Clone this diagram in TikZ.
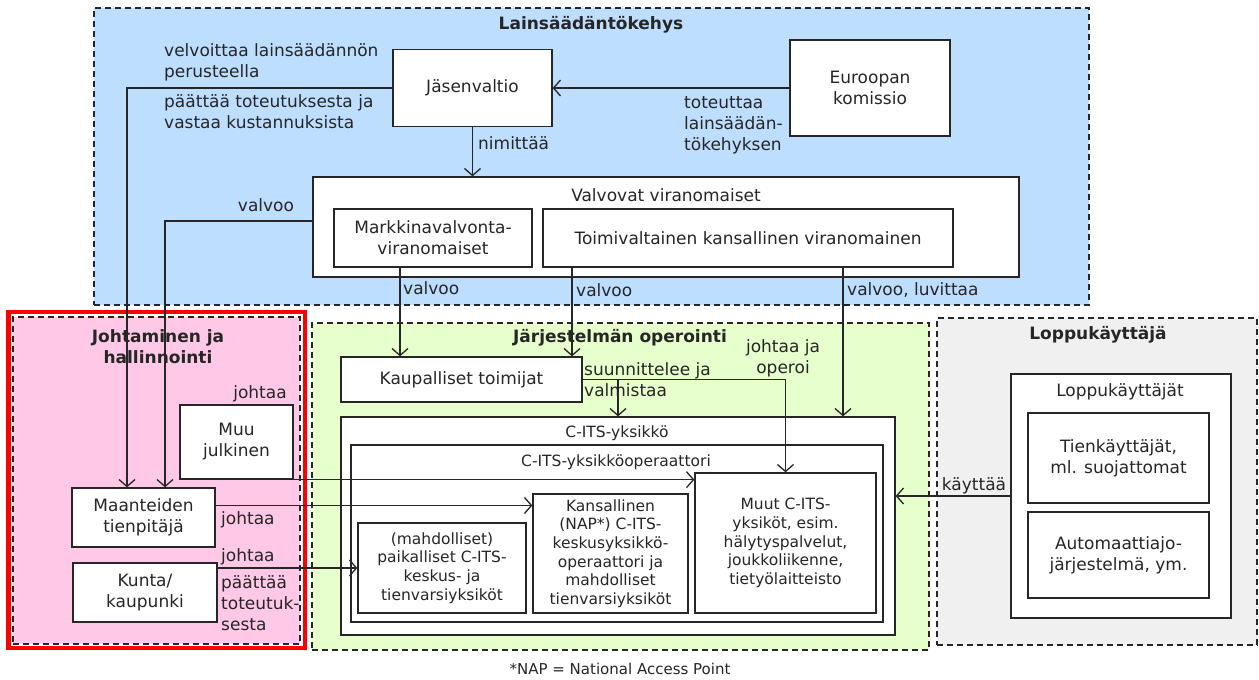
\documentclass[tikz,border=0pt]{standalone}
\usepackage{fontspec}
\setmainfont{DejaVu Sans}
\usetikzlibrary{positioning,arrows.meta}
\definecolor{ink}{HTML}{262626}
\definecolor{lawblue}{HTML}{BDDEFF}
\definecolor{mgmtpink}{HTML}{FFC8E6}
\definecolor{opgreen}{HTML}{E6FFCC}
\definecolor{usergrey}{HTML}{F0F0F0}
\definecolor{frame}{HTML}{FF0000}
\newcommand{\txtmain}{\fontsize{17}{21}\selectfont}
\newcommand{\txtsmall}{\fontsize{15.5}{18.7}\selectfont}

\begin{document}
\begin{tikzpicture}[x=1pt, y=-1pt, font=\txtmain, text=ink,
  region/.style={draw=ink, dash pattern=on 6pt off 4pt, line width=1.1pt},
  unit/.style={draw=ink, fill=white, line width=1.3pt, align=center, inner sep=2pt},
  lbl/.style={align=left, inner sep=1pt},
  ttl/.style={font=\txtmain\bfseries, align=center, inner sep=1pt},
  arr/.style={draw=ink, line width=1.3pt, -{Straight Barb[length=7pt,width=16pt]}}]
  \useasboundingbox (0,0) rectangle (1259,680);

  \node[region, fill=lawblue, minimum width=995pt, minimum height=297pt] (lain) at (591.5,156.5) {};
  \node[region, fill=opgreen, minimum width=617pt, minimum height=327pt] (jarj) at (620.5,486.5) {};
  \node[region, fill=usergrey, minimum width=320pt, minimum height=327pt] (loppu) at (1097,481.5) {};
  \node[region, fill=mgmtpink, minimum width=287pt, minimum height=327pt] (johto) at (156.5,480.5) {};
  \node[draw=frame, line width=4.5pt, minimum width=296.5pt, minimum height=336pt] (johtframe) at (156.75,480) {};

  \node[ttl] (lainttl) at (591,25) {Lainsäädäntökehys};
  \node[ttl] (johtottl) at (158,347) {Johtaminen ja\\hallinnointi};
  \node[ttl] (jarjttl) at (620,338) {Järjestelmän operointi};
  \node[ttl] (lopputtl) at (1098,335) {Loppukäyttäjä};

  \node[unit, minimum width=159pt, minimum height=77pt] (jasen) at (472.5,88) {Jäsenvaltio};
  \node[unit, minimum width=160pt, minimum height=96pt] (komissio) at (870,88) {Euroopan\\komissio};
  \node[unit, minimum width=706pt, minimum height=100pt] (valvovat) at (666,227) {};
  \node (valvottl) at (666,195) {Valvovat viranomaiset};
  \node[unit, minimum width=198pt, minimum height=58pt] (markkina) at (433,238) {Markkinavalvonta-\\viranomaiset};
  \node[unit, minimum width=410pt, minimum height=58pt] (toimi) at (748,238) {Toimivaltainen kansallinen viranomainen};

  \node[unit, minimum width=113pt, minimum height=74pt] (muujulk) at (236.5,442) {Muu\\julkinen};
  \node[unit, minimum width=143pt, minimum height=59pt] (maant) at (143.5,517.5) {Maanteiden\\tienpitäjä};
  \node[unit, minimum width=144pt, minimum height=59pt] (kunta) at (145,592.5) {Kunta/\\kaupunki};

  \node[unit, minimum width=241pt, minimum height=45pt] (kaupall) at (461.5,379.5) {Kaupalliset toimijat};
  \node[unit, minimum width=554pt, minimum height=218pt] (citsyks) at (618,526) {};
  \node (citsyksttl) at (617,433) {\txtsmall C-ITS-yksikkö};
  \node[unit, minimum width=532pt, minimum height=177pt] (citsop) at (617,533.5) {};
  \node (citsopttl) at (616,462) {\txtsmall C-ITS-yksikköoperaattori};
  \node[unit, font=\txtsmall, minimum width=168pt, minimum height=90pt] (mahd) at (442,568) {(mahdolliset)\\paikalliset C-ITS-\\keskus- ja\\tienvarsiyksiköt};
  \node[unit, font=\txtsmall, minimum width=155pt, minimum height=119pt] (kans) at (610.5,553.5) {Kansallinen\\(NAP*) C-ITS-\\keskusyksikkö-\\operaattori ja\\mahdolliset\\tienvarsiyksiköt};
  \node[unit, font=\txtsmall, minimum width=181pt, minimum height=140pt] (muut) at (785.5,543) {Muut C-ITS-\\yksiköt, esim.\\hälytyspalvelut,\\joukkoliikenne,\\tietyölaitteisto};

  \node[unit, minimum width=220pt, minimum height=244pt] (loppukayt) at (1121,496) {};
  \node (loppukayttl) at (1120,392) {Loppukäyttäjät};
  \node[unit, minimum width=181pt, minimum height=90pt] (tienk) at (1118.5,458) {Tienkäyttäjät,\\ml. suojattomat};
  \node[unit, minimum width=181pt, minimum height=86pt] (autom) at (1118.5,555) {Automaattiajo-\\järjestelmä, ym.};

  \draw[arr] (komissio.west) -- (jasen.east);
  \draw[arr] (jasen.south) -- (jasen.south |- valvovat.north);
  \coordinate (velv) at (127,88);
  \draw[arr] (jasen.west) -- (velv) -- (velv |- maant.north);
  \coordinate (valvk) at (165,221);
  \draw[arr] (valvovat.west |- valvk) -- (valvk) -- (valvk |- maant.north);
  \path ([xshift=-33pt]markkina.south) coordinate (mk)
        ([xshift=-176pt]toimi.south) coordinate (tk1)
        ([xshift=95pt]toimi.south) coordinate (tk2);
  \draw[arr] (mk) -- (mk |- kaupall.north);
  \draw[arr] (tk1) -- (tk1 |- kaupall.north);
  \draw[arr] (tk2) -- (tk2 |- citsyks.north);
  \draw[arr] (kaupall.east) -| (muut.north);
  \draw[arr] (kaupall.east -| citsyks.north) -- (citsyks.north);
  \draw[arr] (muujulk.south east) -- (muujulk.south east -| muut.west);
  \path ([yshift=12pt]maant.east) coordinate (mt);
  \draw[arr] (mt) -- (mt -| kans.west);
  \draw[arr] (kunta.east |- mahd.west) -- (mahd.west);
  \draw[arr] (loppukayt.west) -- (loppukayt.west -| citsyks.east);

  \node[lbl, anchor=west] (velvlbl) at (163,62) {velvoittaa lainsäädännön\\perusteella};
  \node[lbl, anchor=west] (paatlbl) at (163,112) {päättää toteutuksesta ja\\vastaa kustannuksista};
  \node[lbl, anchor=west] (totlbl) at (683,125) {toteuttaa\\lainsäädän-\\tökehyksen};
  \node[lbl, anchor=west] (nimlbl) at (477,143) {nimittää};
  \node[lbl] (valvlbl1) at (266,205) {valvoo};
  \node[lbl, anchor=west] (valvlbl2) at (402,288) {valvoo};
  \node[lbl, anchor=west] (valvlbl3) at (575,290) {valvoo};
  \node[lbl, anchor=west] (valvlbl4) at (846,290) {valvoo, luvittaa};
  \node[lbl] (johtlbl1) at (260,394) {johtaa};
  \node[lbl, anchor=west] (johtlbl2) at (220,520) {johtaa};
  \node[lbl, anchor=west] (johtlbl3) at (220,557) {johtaa};
  \node[lbl, anchor=west] (paatlbl2) at (220,603) {päättää\\toteutuk-\\sesta};
  \node[lbl, anchor=west] (suunlbl) at (583,380) {suunnittelee ja\\valmistaa};
  \node[lbl, align=center] (operlbl) at (783,358) {johtaa ja\\operoi};
  \node[lbl] (kaytlbl) at (974,486) {käyttää};
  \node (naplbl) at (620,669) {\fontsize{15}{18}\selectfont *NAP = National Access Point};
\end{tikzpicture}
\end{document}
